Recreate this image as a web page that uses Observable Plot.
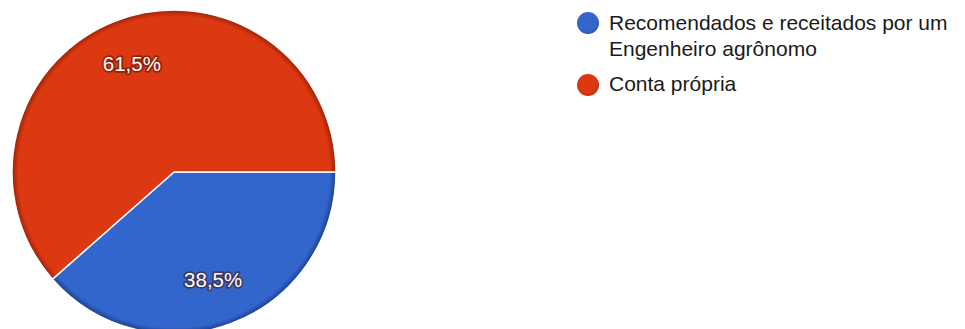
<!DOCTYPE html>
<html>
<head>
<meta charset="utf-8">
<script src="https://cdn.jsdelivr.net/npm/d3@7"></script>
<script src="https://cdn.jsdelivr.net/npm/@observablehq/plot@0.6"></script>
<style>
  html, body { margin: 0; padding: 0; background: #fff; overflow: hidden; }
  #wrap { position: relative; width: 965px; height: 329px; overflow: hidden; }
  .ltext { position: absolute; left: 609px; font-family: "Liberation Sans", Arial, sans-serif; font-size: 21px; line-height: 21px; color: #1a1a1a; white-space: nowrap; }
  .sw { position: absolute; left: 577px; width: 22px; height: 22px; border-radius: 50%; }
</style>
</head>
<body>
<div id="wrap"></div>
<script>
const categories = ["Recomendados e receitados por um Engenheiro agrônomo", "Conta própria"];
const legendLines = [["Recomendados e receitados por um", "Engenheiro agrônomo"], ["Conta própria"]];
const values = [38.5, 61.5];
const labels = ["38,5%", "61,5%"];
const colors = ["#3366cc", "#dc3912"];
const darkColors = ["#1d3f8f", "#9c2208"];

// slices: start at 3 o'clock (angle PI/2 measured clockwise from north), clockwise
const total = d3.sum(values);
const startOffset = Math.PI / 2;
let acc = 0;
const slices = values.map((v, i) => {
  const a0 = startOffset + acc / total * 2 * Math.PI;
  acc += v;
  const a1 = startOffset + acc / total * 2 * Math.PI;
  const mid = (a0 + a1) / 2;
  return {category: categories[i], value: v, label: labels[i], a0, a1,
          lx: 0.71 * Math.sin(mid), ly: 0.71 * Math.cos(mid)};
});

function pieMark(index, scales, values, dimensions, context) {
  const cx = scales.x(0), cy = scales.y(0);
  const r = scales.x(1) - scales.x(0);
  const g = d3.create("svg:g");
  const defs = g.append("defs");
  slices.forEach((s, i) => {
    const grad = defs.append("radialGradient").attr("id", "piegrad" + i)
      .attr("gradientUnits", "userSpaceOnUse").attr("cx", 0).attr("cy", 0).attr("r", r);
    grad.append("stop").attr("offset", "0%").attr("stop-color", scales.color(s.category));
    grad.append("stop").attr("offset", "96%").attr("stop-color", scales.color(s.category));
    grad.append("stop").attr("offset", "100%").attr("stop-color", darkColors[i]);
  });
  const arc = d3.arc().innerRadius(0).outerRadius(r);
  g.selectAll("path").data(slices).join("path")
    .attr("transform", `translate(${cx},${cy})`)
    .attr("d", s => arc({startAngle: s.a0, endAngle: s.a1}))
    .attr("fill", (s, i) => `url(#piegrad${i})`)
    .attr("stroke", "#fff")
    .attr("stroke-width", 1.5)
    .attr("stroke-linejoin", "round");
  return g.node();
}

const plot = Plot.plot({
  width: 965,
  height: 329,
  margin: 0,
  x: {domain: [-1, 1], range: [12, 336], axis: null},
  y: {domain: [-1, 1], range: [334, 10], axis: null},
  color: {domain: categories, range: colors},
  style: {background: "transparent", overflow: "hidden"},
  marks: [
    pieMark,
    Plot.text(slices, {
      x: "lx", y: "ly", text: "label", dx: -2,
      fill: "#fff", stroke: "#4a0c00", strokeWidth: 3.5, strokeOpacity: 0.5,
      fontSize: 20.5, fontFamily: "Liberation Sans, Arial, sans-serif"
    })
  ]
});
const wrap = d3.select("#wrap");
wrap.node().prepend(plot);

// legend: baselines at 30, 55 (item 1) and 91 (item 2); swatch centres at 23 and 85
const lineTops = [[12.2, 37.7], [73]];
const swatchCentres = [23, 85];
legendLines.forEach((lines, i) => {
  wrap.append("span").attr("class", "sw")
    .style("top", (swatchCentres[i] - 11) + "px")
    .style("background", `radial-gradient(circle at 45% 40%, ${colors[i]} 55%, ${darkColors[i]} 100%)`);
  lines.forEach((t, j) => wrap.append("div").attr("class", "ltext").style("top", lineTops[i][j] + "px").text(t));
});
</script>
</body>
</html>
